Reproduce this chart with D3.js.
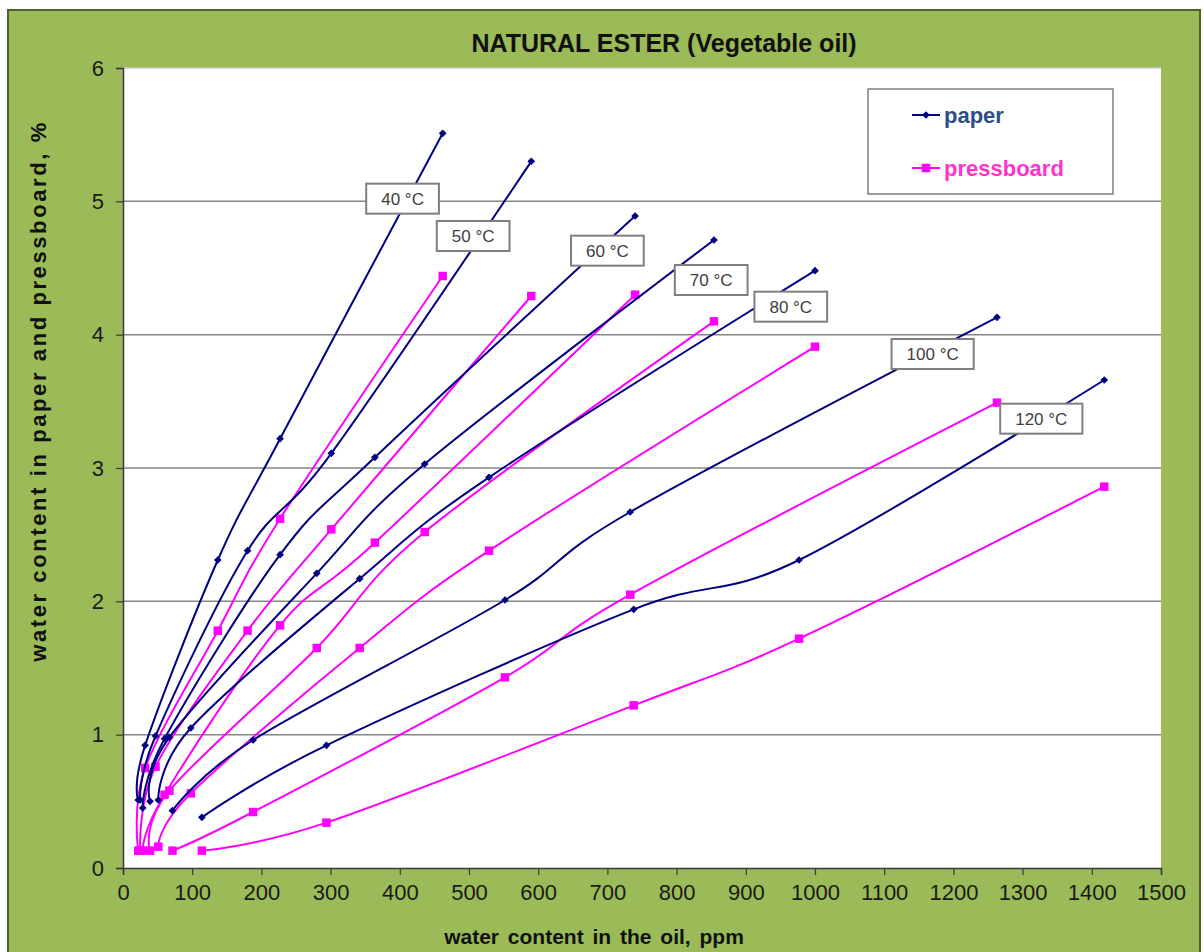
<!DOCTYPE html>
<html><head><meta charset="utf-8">
<script src="https://cdn.jsdelivr.net/npm/d3@7/dist/d3.min.js"></script>
<style>
body{margin:0;background:#fff}
svg{display:block;font-family:"Liberation Sans",Arial,Helvetica,sans-serif}
</style>
</head><body>
<svg id="chart" width="1204" height="952"></svg>
<script>
// ---------- data ----------
const chartTitle = "NATURAL ESTER (Vegetable oil)";
const xAxisTitle = "water content in the oil, ppm";
const yAxisTitle = "water content in paper and pressboard, %";
const temperatures = ["40 °C", "50 °C", "60 °C", "70 °C", "80 °C", "100 °C", "120 °C"];
// water content in the oil (ppm) for each temperature
const oilPpm = [
  [22, 32, 137, 227, 462],
  [25, 47, 180, 301, 590],
  [28.5, 60, 227, 364, 740],
  [39, 67, 280, 436, 854],
  [51, 98, 342, 529, 1000],
  [71.5, 188, 552, 733, 1263],
  [114, 294, 738, 977, 1418]
];
// water content in paper (%)
const paperPct = [
  [0.51, 0.92, 2.31, 3.22, 5.51],
  [0.51, 0.99, 2.38, 3.11, 5.30],
  [0.45, 0.97, 2.35, 3.08, 4.89],
  [0.50, 0.98, 2.21, 3.03, 4.71],
  [0.51, 1.05, 2.17, 2.93, 4.48],
  [0.43, 0.96, 2.01, 2.67, 4.13],
  [0.38, 0.92, 1.94, 2.31, 3.66]
];
// water content in pressboard (%)
const boardPct = [
  [0.13, 0.75, 1.78, 2.62, 4.44],
  [0.13, 0.76, 1.78, 2.54, 4.29],
  [0.13, 0.55, 1.82, 2.44, 4.30],
  [0.13, 0.58, 1.65, 2.52, 4.10],
  [0.16, 0.56, 1.65, 2.38, 3.91],
  [0.13, 0.42, 1.43, 2.05, 3.49],
  [0.13, 0.34, 1.22, 1.72, 2.86]
];
// temperature label anchors (data units)
const labelPpm = [404, 506, 700, 850, 965, 1170, 1327];
const labelPct = [5.02, 4.74, 4.63, 4.41, 4.21, 3.855, 3.37];
const xTicks = d3.range(0, 1501, 100);
const yTicks = [0, 1, 2, 3, 4, 5, 6];
const legendNames = ["paper", "pressboard"];

// ---------- layout ----------
const svg = d3.select("#chart");
const W = 1204, H = 952;
const plot = {left: 123, right: 1161, top: 68, bottom: 868};
const paperColor = "#000080", boardColor = "#FF00FF";

svg.append("rect").attr("x", 0).attr("y", 0).attr("width", W).attr("height", H).attr("fill", "#fff");
svg.append("rect").attr("x", 8).attr("y", 10).attr("width", 1192).attr("height", 960)
  .attr("fill", "#9BBB59").attr("stroke", "#4F6228").attr("stroke-width", 2);
svg.append("rect").attr("x", plot.left).attr("y", plot.top)
  .attr("width", plot.right - plot.left).attr("height", plot.bottom - plot.top).attr("fill", "#fff");

const x = d3.scaleLinear().domain([0, 1500]).range([plot.left, plot.right]);
const y = d3.scaleLinear().domain([0, 6]).range([plot.bottom, plot.top]);

// gridlines
svg.append("g").selectAll("line").data(yTicks.filter(d => d > 0)).join("line")
  .attr("x1", plot.left).attr("x2", plot.right)
  .attr("y1", d => y(d)).attr("y2", d => y(d))
  .attr("stroke", d => d === 6 ? "#c8c8c8" : "#868686").attr("stroke-width", 1.5);

// axes
const xAxis = svg.append("g").attr("transform", `translate(0,${plot.bottom})`)
  .call(d3.axisBottom(x).tickValues(xTicks).tickSize(7).tickPadding(9).tickFormat(d3.format("d")));
const yAxis = svg.append("g").attr("transform", `translate(${plot.left},0)`)
  .call(d3.axisLeft(y).tickValues(yTicks).tickSize(7).tickPadding(12).tickFormat(d3.format("d")));
[xAxis, yAxis].forEach(g => {
  g.select(".domain").attr("stroke", "#3a3a3a").attr("stroke-width", 1.5);
  g.selectAll(".tick line").attr("stroke", "#3a3a3a").attr("stroke-width", 1.2);
  g.selectAll(".tick text").attr("fill", "#1a1a1a").style("font-size", "22px")
    .style("font-family", '"Liberation Sans",Arial,sans-serif');
});

// lines
const line = d3.line().x(d => x(d[0])).y(d => y(d[1])).curve(d3.curveCardinal.tension(0));
const seriesGroup = svg.append("g");
temperatures.forEach((t, i) => {
  const paperPts = oilPpm[i].map((v, j) => [v, paperPct[i][j]]);
  const boardPts = oilPpm[i].map((v, j) => [v, boardPct[i][j]]);
  seriesGroup.append("path").datum(boardPts).attr("d", line)
    .attr("fill", "none").attr("stroke", boardColor).attr("stroke-width", 2);
  seriesGroup.append("path").datum(paperPts).attr("d", line)
    .attr("fill", "none").attr("stroke", paperColor).attr("stroke-width", 2);
  seriesGroup.append("g").selectAll("path").data(boardPts).join("path")
    .attr("d", d3.symbol(d3.symbolSquare, 72))
    .attr("transform", d => `translate(${x(d[0])},${y(d[1])})`)
    .attr("fill", boardColor);
  seriesGroup.append("g").selectAll("path").data(paperPts).join("path")
    .attr("d", d3.symbol(d3.symbolSquare, 30))
    .attr("transform", d => `translate(${x(d[0])},${y(d[1])}) rotate(45)`)
    .attr("fill", paperColor);
});

// temperature labels
const labels = svg.append("g");
temperatures.forEach((t, i) => {
  const g = labels.append("g").attr("transform", `translate(${x(labelPpm[i])},${y(labelPct[i])})`);
  const rect = g.append("rect").attr("fill", "#fff").attr("stroke", "#7f7f7f").attr("stroke-width", 2);
  const txt = g.append("text").text(t).attr("text-anchor", "middle").attr("dy", "0.36em")
    .attr("fill", "#404040").style("font-size", "17px");
  const w = txt.node().getComputedTextLength() + 30;
  rect.attr("x", -w / 2).attr("y", -15).attr("width", w).attr("height", 30);
});

// legend
const lg = svg.append("g");
lg.append("rect").attr("x", 868).attr("y", 89).attr("width", 245).attr("height", 105)
  .attr("fill", "#fff").attr("stroke", "#7f7f7f").attr("stroke-width", 1.5);
const legendItems = [
  {name: legendNames[0], color: paperColor, text: "#2E4F86", sym: 30, rot: 45, cy: 115},
  {name: legendNames[1], color: boardColor, text: "#FF33CC", sym: 72, rot: 0, cy: 168}
];
legendItems.forEach(it => {
  lg.append("line").attr("x1", 912).attr("x2", 940).attr("y1", it.cy).attr("y2", it.cy)
    .attr("stroke", it.color).attr("stroke-width", 2);
  lg.append("path").attr("d", d3.symbol(d3.symbolSquare, it.sym)())
    .attr("transform", `translate(926,${it.cy}) rotate(${it.rot})`).attr("fill", it.color);
  lg.append("text").attr("x", 944).attr("y", it.cy).attr("dy", "0.35em").text(it.name)
    .attr("fill", it.text).style("font-size", "22px").style("font-weight", "bold");
});

// titles
svg.append("text").attr("x", 664).attr("y", 52).attr("text-anchor", "middle").text(chartTitle)
  .style("font-size", "25px").style("font-weight", "bold").attr("fill", "#111");
svg.append("text").attr("x", 594).attr("y", 944).attr("text-anchor", "middle").text(xAxisTitle)
  .style("font-size", "21px").style("font-weight", "bold").style("word-spacing", "3px").attr("fill", "#111");
svg.append("text").attr("transform", "translate(46,391) rotate(-90)").attr("text-anchor", "middle")
  .text(yAxisTitle).style("font-size", "22px").style("font-weight", "bold")
  .style("letter-spacing", "2.6px").attr("fill", "#111");
</script>
</body></html>
